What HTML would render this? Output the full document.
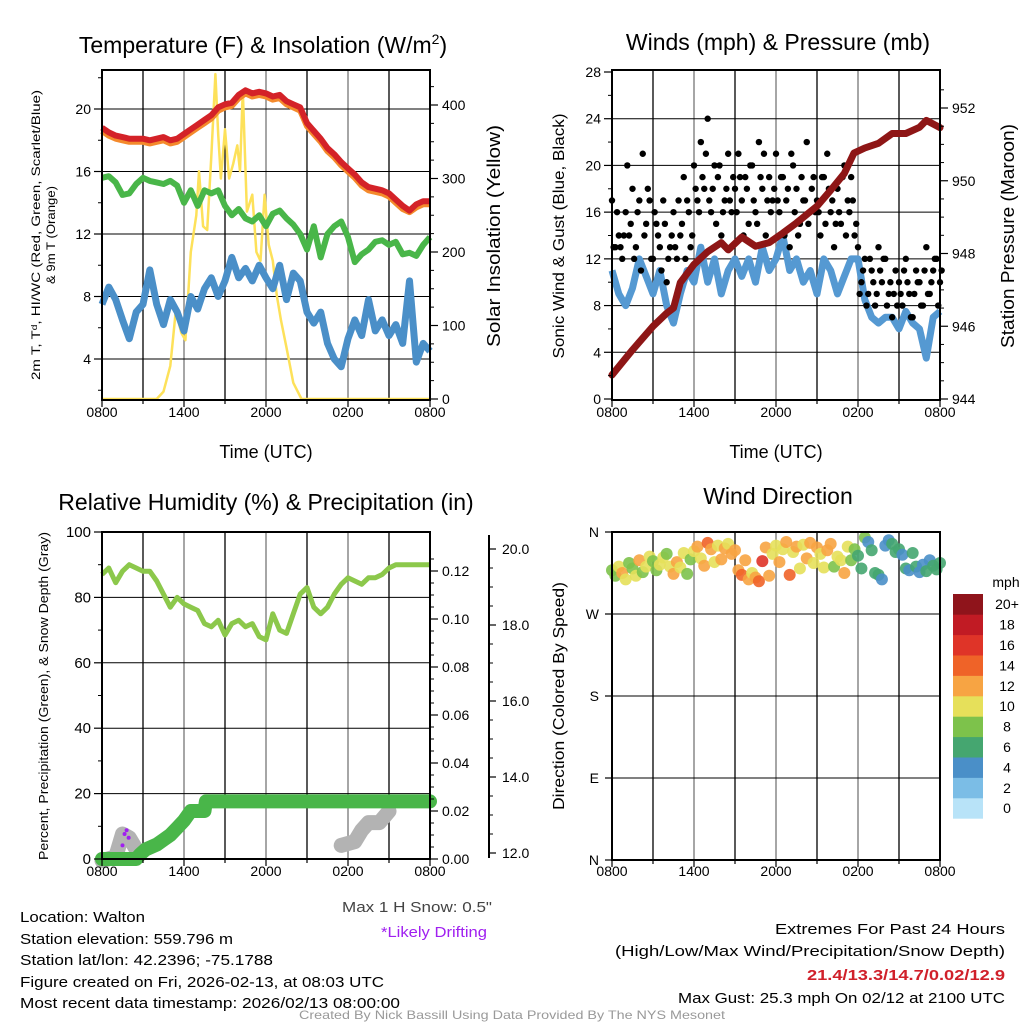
<!DOCTYPE html>
<html><head><meta charset="utf-8"><style>
html,body{margin:0;padding:0;background:#fff;}
svg{display:block;font-family:"Liberation Sans",sans-serif;}
</style></head><body>
<svg id="chart" width="1024" height="1024" viewBox="0 0 1024 1024" xmlns="http://www.w3.org/2000/svg">
<g id="p1"></g>
<g id="p2"></g>
<g id="p3"></g>
<g id="p4"></g>
<g id="txt">
<text x="20" y="922" font-size="15" textLength="125" lengthAdjust="spacingAndGlyphs">Location: Walton</text>
<text x="20" y="944" font-size="15" textLength="213" lengthAdjust="spacingAndGlyphs">Station elevation: 559.796 m</text>
<text x="20" y="965" font-size="15" textLength="253" lengthAdjust="spacingAndGlyphs">Station lat/lon: 42.2396; -75.1788</text>
<text x="20" y="987" font-size="15" textLength="364" lengthAdjust="spacingAndGlyphs">Figure created on Fri, 2026-02-13, at 08:03 UTC</text>
<text x="20" y="1008" font-size="15" textLength="380" lengthAdjust="spacingAndGlyphs">Most recent data timestamp: 2026/02/13 08:00:00</text>
<text x="342" y="912" font-size="15" fill="#444" textLength="150" lengthAdjust="spacingAndGlyphs">Max 1 H Snow: 0.5"</text>
<text x="381" y="937" font-size="15" fill="#a020f0" textLength="106" lengthAdjust="spacingAndGlyphs">*Likely Drifting</text>
<text x="1005" y="934" font-size="15" text-anchor="end" textLength="230" lengthAdjust="spacingAndGlyphs">Extremes For Past 24 Hours</text>
<text x="1005" y="956" font-size="15" text-anchor="end" textLength="390" lengthAdjust="spacingAndGlyphs">(High/Low/Max Wind/Precipitation/Snow Depth)</text>
<text x="1005" y="980" font-size="15" font-weight="bold" fill="#d0202a" text-anchor="end" textLength="198" lengthAdjust="spacingAndGlyphs">21.4/13.3/14.7/0.02/12.9</text>
<text x="1005" y="1003" font-size="15" text-anchor="end" textLength="327" lengthAdjust="spacingAndGlyphs">Max Gust: 25.3 mph On 02/12 at 2100 UTC</text>
<text x="512" y="1019" font-size="12" fill="#999" text-anchor="middle" textLength="426" lengthAdjust="spacingAndGlyphs">Created By Nick Bassill Using Data Provided By The NYS Mesonet</text>
</g>
</svg>
<script>
// ---------- DATA ----------
const timeLabels = ["0800","1400","2000","0200","0800"];
const tempRed = [18.8,18.5,18.3,18.2,18.1,18.1,18.1,18.0,18.1,18.2,18.0,18.1,18.4,18.7,19.0,19.3,19.6,20.1,20.3,20.4,20.9,21.2,21.0,21.1,21.0,20.8,20.9,20.5,20.3,20.1,19.1,18.6,18.1,17.5,17.1,16.6,16.2,15.8,15.3,15.0,14.9,14.8,14.6,14.2,13.8,13.5,13.9,14.1,14.1];
const temp9m = [18.6,18.3,18.1,18.0,17.9,17.9,17.9,17.8,17.9,18.0,17.8,17.9,18.2,18.5,18.8,19.1,19.4,19.9,20.1,20.2,20.7,21.0,20.8,20.9,20.8,20.6,20.7,20.3,20.1,19.9,18.9,18.4,17.9,17.3,16.9,16.4,16.0,15.6,15.1,14.8,14.7,14.6,14.4,14.0,13.6,13.4,13.7,13.9,13.9];
const dewGreen = [15.6,15.7,15.3,14.5,14.6,15.2,15.6,15.4,15.3,15.2,15.4,15.1,14.0,14.8,13.8,14.8,14.6,14.8,13.8,13.2,13.6,13.0,12.8,13.2,12.5,13.3,13.5,13.0,12.6,12.0,11.0,12.5,10.5,12.0,12.5,12.8,11.8,10.2,10.7,11.0,11.5,11.6,11.3,11.5,10.7,10.8,10.6,11.3,11.8];
const wcBlue = [7.5,8.6,7.8,6.5,5.3,7.0,7.5,9.7,7.5,6.2,7.8,7.0,5.8,8.0,7.2,8.5,9.2,8.0,9.0,10.5,9.2,9.8,9.0,10.0,9.2,8.5,10.0,7.8,9.5,9.0,7.0,6.3,7.0,5.0,4.0,3.5,5.3,6.5,5.5,7.8,5.8,6.5,5.5,6.2,5.0,9.0,3.8,5.0,4.5];
const solarTimes = [0,4,4.5,5,5.4,5.8,6.1,6.5,6.9,7.1,7.4,7.7,8.0,8.3,8.5,8.7,9.0,9.3,9.6,9.9,10.1,10.3,10.6,11.0,11.3,11.6,11.9,12.2,12.5,12.8,13.1,13.5,14.0,14.6,15,24];
const solarVals = [0,0,10,45,120,90,80,200,250,310,235,230,330,442,360,300,367,300,320,345,310,420,255,278,200,188,278,210,188,140,107,70,22,0,0,0];
const windBlue = [11,9,8,9.5,12,10.5,9,11,8,6.5,9,11,10,13,10,12,9,11,12,10.5,12,10,13,11,12,14,11,12,10,11,9,12,11,9,10.5,12,12,8.5,7,6.5,7,7,6,7.5,6.5,6,3.5,7,7.5];
const gustBlack = [17,13,14,12,16,14,18,13,17,21,15,17, 12,15,13,17,10,13,16,12,14,19,17,13, 20,17,22,18,24,16,20,19,14,17,21,16, 18,21,17,19,15,20,16,22,18,14,19,17, 21,16,19,17,13,20,18,15,17,22,16,19, 17,14,19,21,16,13,18,15,20,17,19,14, 13,10,12,9,11,8,13,10,12,9,7,11, 10,8,12,9,7,11,10,8,13,9,11,12,10];
const gustExtra = [13,16,13,14,20,15,12,16,11,14,18,12, 16,14,11,15,12,14,13,17,15,12,16,14, 18,16,19,21,17,18,15,20,16,18,17,19, 16,19,14,18,20,17,15,19,21,17,16,18, 17,19,14,18,21,16,14,19,17,15,18,16, 16,19,15,18,17,15,16,19,14,16,17,15, 9,11,8,12,10,9,11,12,8,10,9,8, 9,11,10,7,9,10,8,11,9,10,12,8,11];
const pressMaroonT = [0,1.5,3,4,4.5,5,6,7,8,8.5,9.5,10.5,11.5,12.5,13.5,15,16,17,17.7,18.5,19.5,20.5,21.5,22.5,23,24];
const pressMaroon = [944.66,945.35,946.0,946.36,946.5,947.2,947.7,948.05,948.3,948.1,948.45,948.2,948.3,948.56,948.84,949.3,949.74,950.2,950.76,950.9,951.03,951.3,951.3,951.47,951.66,951.46];
const rhGreen = [87,89,84.5,88,90,89,88,88,85,81,77,80,78,77,76,72,71,73,68.5,72,73,71,72,68,67,75,70,69,75,81,83,77,75,77,81,84,86,85,84,86,86,87,89,90,90,90,90,90,90];
const precipT = [0,2.5,2.8,3.2,4,4.5,5,5.5,6,6.5,7.5,7.6,24];
const precipVals = [0,0,0.002,0.004,0.006,0.008,0.010,0.013,0.016,0.020,0.020,0.024,0.024];
const snowT1 = [0,1,1.5,2,2.5];
const snowV1 = [11.8,11.9,12.5,12.4,12.1];
const snowT2 = [17.5,18.5,19,19.5,20.3,21];
const snowV2 = [12.2,12.3,12.6,12.8,12.8,13.1];
const driftT = [1.5,1.65,1.8,1.95];
const driftV = [12.2,12.5,12.6,12.4];
const wdDir = [318,312,322,315,308,326,320,312,329,316,322,333, 328,318,324,332,336,322,314,327,321,337,314,330, 339,344,331,323,348,341,327,345,330,342,347,336, 340,318,313,329,308,315,310,306,328,343,312,336, 345,327,341,349,313,338,344,320,346,331,348,326, 343,336,321,340,347,322,333,329,315,344,329,341, 334,320,354,349,340,315,313,308,345,351,347,338, 341,335,320,318,337,322,316,324,317,329,323,319,326];
const wdSpd = [9,8,10,13,11,9,8,10,12,9,11,10, 9,8,10,11,9,10,12,13,10,11,9,8, 10,12,11,13,14,12,10,11,13,12,10,12, 13,12,14,12,13,11,12,15,16,13,12,11, 11,12,10,13,14,11,12,10,11,13,12,10, 12,11,10,13,12,9,11,10,12,11,8,9, 7,6,8,5,6,7,6,5,4,5,6,7, 6,5,6,4,6,7,5,4,6,5,7,6,6];
const speedBins = ["0","2","4","6","8","10","12","14","16","18","20+"];
const speedColors = ["#b8e3f8","#7bbde6","#4a8fc8","#45a670","#7dc24b","#e6e05a","#f7a443","#ef6328","#df3428","#c11b24","#8f141b"];

// ---------- helpers ----------
const NS="http://www.w3.org/2000/svg";
function mk(parent, tag, attrs, text){
  const e=document.createElementNS(NS,tag);
  for(const k in attrs) e.setAttribute(k,attrs[k]);
  if(text!==undefined) e.textContent=text;
  parent.appendChild(e); return e;
}
function lin(d0,d1,r0,r1){return v=>r0+(v-d0)/(d1-d0)*(r1-r0);}
function pathFrom(ts,vs,xs,ys){let d="";for(let i=0;i<vs.length;i++){if(vs[i]===null)continue;d+=(d?"L":"M")+xs(ts[i]).toFixed(1)+","+ys(vs[i]).toFixed(1);}return d;}
function halfHours(n){const a=[];for(let i=0;i<n;i++)a.push(i*0.5);return a;}
function quarterHours(n){const a=[];for(let i=0;i<n;i++)a.push(i*0.25);return a;}
function speedColor(s){let i=Math.floor(s/2);if(i>10)i=10;if(i<0)i=0;return speedColors[i];}

function frame(g,x0,y0,x1,y1,hGrid,ys){
  mk(g,"rect",{x:x0,y:y0,width:x1-x0,height:y1-y0,fill:"#fff"});
  const xs=lin(0,24,x0,x1);
  for(let h=3;h<24;h+=3){const l=mk(g,"line",{x1:xs(h),x2:xs(h),y1:y0,y2:y1,stroke:h%6?"#000":"#777","stroke-width":1.3});
  
  }
  hGrid.forEach(v=>{const l=mk(g,"line",{x1:x0,x2:x1,y1:ys(v),y2:ys(v),stroke:"#000","stroke-width":1});
  
  });
  return xs;
}
function border(g,x0,y0,x1,y1){mk(g,"rect",{x:x0,y:y0,width:x1-x0,height:y1-y0,fill:"none",stroke:"#000","stroke-width":2});}
function xAxis(g,xs,y1,ly){
  for(let h=0;h<=24;h+=3){mk(g,"line",{x1:xs(h),x2:xs(h),y1:y1,y2:y1+(h%6?4:7),stroke:"#000","stroke-width":1.2});}
  timeLabels.forEach((t,i)=>{const e=mk(g,"text",{x:xs(i*6),y:ly,"font-size":14,"text-anchor":"middle"},t);
  
  });
}
function leftTicks(g,x0,ys,vals,fmt,minor,fs){
  vals.forEach(v=>{mk(g,"line",{x1:x0-8,x2:x0,y1:ys(v),y2:ys(v),stroke:"#000","stroke-width":1.2});
  const e=mk(g,"text",{x:x0-11,y:ys(v)+5,"font-size":fs||14,"text-anchor":"end"},fmt(v));
  
  });
  minor.forEach(v=>mk(g,"line",{x1:x0-4,x2:x0,y1:ys(v),y2:ys(v),stroke:"#000","stroke-width":1}));
}
function rightTicks(g,x1,ys,vals,fmt,minor){
  vals.forEach(v=>{mk(g,"line",{x1:x1,x2:x1+8,y1:ys(v),y2:ys(v),stroke:"#000","stroke-width":1.2});
  const e=mk(g,"text",{x:x1+12,y:ys(v)+5,"font-size":14},fmt(v));
  
  });
  minor.forEach(v=>mk(g,"line",{x1:x1,x2:x1+4,y1:ys(v),y2:ys(v),stroke:"#000","stroke-width":1}));
}
function rng(a,b,s){const r=[];for(let v=a;v<=b+1e-9;v+=s)r.push(+v.toFixed(4));return r;}
function vtext(g,x,y,txt,fs,name,len){const e=mk(g,"text",{x:0,y:0,"font-size":fs,"text-anchor":"middle",transform:`translate(${x},${y}) rotate(-90)`},txt);
  if(len){e.setAttribute("textLength",len);e.setAttribute("lengthAdjust","spacingAndGlyphs");}
  
  return e;}
function title(g,x,y,txt,name){const e=mk(g,"text",{x:x,y:y,"font-size":23,"text-anchor":"middle"},txt);
  
  return e;}

// ---------- Panel 1 ----------
(function(){
  const g=document.getElementById("p1");
  const X0=102,X1=430,Y0=70,Y1=400;
  const ys=lin(20,4,109,359), ysR=lin(0,400,399,105);
  const xs=frame(g,X0,Y0,X1,Y1,[4,8,12,16,20],ys);
  const hh=halfHours(49);
  const sol=mk(g,"path",{d:pathFrom(solarTimes,solarVals,xs,ysR),fill:"none",stroke:"#fde15a","stroke-width":2.5,"stroke-linejoin":"round"});
  
  
  const b=mk(g,"path",{d:pathFrom(hh,wcBlue,xs,ys),fill:"none",stroke:"#4a8fc8","stroke-width":7,"stroke-linejoin":"round"});
  
  
  const gr=mk(g,"path",{d:pathFrom(hh,dewGreen,xs,ys),fill:"none",stroke:"#49b649","stroke-width":6,"stroke-linejoin":"round"});
  
  
  const o=mk(g,"path",{d:pathFrom(hh,temp9m,xs,ys),fill:"none",stroke:"#f48a2c","stroke-width":6,"stroke-linejoin":"round"});
  
  
  const r=mk(g,"path",{d:pathFrom(hh,tempRed,xs,ys),fill:"none",stroke:"#d42228","stroke-width":6,"stroke-linejoin":"round"});
  
  
  border(g,X0,Y0,X1,Y1);
  xAxis(g,xs,Y1,417);
  leftTicks(g,X0,ys,[4,8,12,16,20],v=>String(v),rng(2,22,2).filter(v=>v%4));
  rightTicks(g,X1,ysR,[0,100,200,300,400],v=>String(v),rng(25,425,25).filter(v=>v%100));
  const xt=mk(g,"text",{x:266,y:458,"font-size":18,"text-anchor":"middle"},"Time (UTC)");
  
  
  vtext(g,40,235,"2m T, T\u1D48, HI/WC (Red, Green, Scarlet/Blue)",12,"y-axis-title-line1",290);
  vtext(g,55,235,"& 9m T (Orange)",12,"y-axis-title-line2",98);
  vtext(g,500,236,"Solar Insolation (Yellow)",18,"right-axis-title",222);
  const t=mk(g,"text",{x:263,y:53,"font-size":23,"text-anchor":"middle"});
  
  
  t.textContent="Temperature (F) & Insolation (W/m";
  mk(t,"tspan",{"font-size":14,dy:-9},"2");
  mk(t,"tspan",{dy:9},")");
})();

// ---------- Panel 2 ----------
(function(){
  const g=document.getElementById("p2");
  const X0=612,X1=940,Y0=70,Y1=400;
  const ys=lin(0,28,399,72), ysR=lin(944,952,399,108);
  const xs=frame(g,X0,Y0,X1,Y1,[4,8,12,16,20,24],ys);
  const hh=halfHours(49), qh=quarterHours(97);
  const b=mk(g,"path",{d:pathFrom(hh,windBlue,xs,ys),fill:"none",stroke:"#5599d2","stroke-width":7,"stroke-linejoin":"round"});
  
  
  gustBlack.forEach((v,i)=>{const c=mk(g,"circle",{cx:xs(qh[i]),cy:ys(v),r:3.2,fill:"#000"});
  
  });
  gustExtra.forEach((v,i)=>{const c=mk(g,"circle",{cx:xs(qh[i]+0.12),cy:ys(v),r:3.2,fill:"#000"});
  
  });
  const p=mk(g,"path",{d:pathFrom(pressMaroonT,pressMaroon,xs,ysR),fill:"none",stroke:"#8e1616","stroke-width":7,"stroke-linejoin":"round","stroke-linecap":"round"});
  
  
  border(g,X0,Y0,X1,Y1);
  xAxis(g,xs,Y1,417);
  leftTicks(g,X0,ys,rng(0,28,4),v=>String(v),rng(2,26,4));
  rightTicks(g,X1,ysR,[944,946,948,950,952],v=>String(v),rng(944.5,952.5,0.5).filter(v=>v%2));
  const xt=mk(g,"text",{x:776,y:458,"font-size":18,"text-anchor":"middle"},"Time (UTC)");
  
  
  vtext(g,564,236,"Sonic Wind & Gust (Blue, Black)",16,"y-axis-title",245);
  vtext(g,1014,236,"Station Pressure (Maroon)",18,"right-axis-title",224);
  title(g,778,50,"Winds (mph) & Pressure (mb)","chart-title");
})();

// ---------- Panel 3 ----------
(function(){
  const g=document.getElementById("p3");
  const X0=102,X1=430,Y0=532,Y1=859;
  const ys=lin(0,100,859,532), ysP=lin(0,0.12,859,571), ysS=lin(12,20,853,549);
  const xs=frame(g,X0,Y0,X1,Y1,[20,40,60,80],ys);
  const hh=halfHours(49);
  const rh=mk(g,"path",{d:pathFrom(hh,rhGreen,xs,ys),fill:"none",stroke:"#8cc84b","stroke-width":5,"stroke-linejoin":"round"});
  
  
  [[snowT1,snowV1],[snowT2,snowV2]].forEach(s=>{const e=mk(g,"path",{d:pathFrom(s[0],s[1],xs,ysS),fill:"none",stroke:"#b3b3b3","stroke-width":15,"stroke-linejoin":"round","stroke-linecap":"round"});
  
  });
  const pr=mk(g,"path",{d:pathFrom(precipT,precipVals,xs,ysP),fill:"none",stroke:"#49b649","stroke-width":14,"stroke-linejoin":"round","stroke-linecap":"round"});
  
  
  driftT.forEach((t,i)=>{const c=mk(g,"circle",{cx:xs(t),cy:ysS(driftV[i]),r:2,fill:"#a020f0"});
  
  });
  border(g,X0,Y0,X1,Y1);
  xAxis(g,xs,Y1,876);
  leftTicks(g,X0,ys,rng(0,100,20),v=>String(v),rng(10,90,20),15);
  rightTicks(g,X1,ysP,rng(0,0.12,0.02),v=>v.toFixed(2),rng(0.005,0.125,0.005).filter(v=>Math.round(v*1000)%20));
  mk(g,"line",{x1:489,x2:489,y1:535,y2:858,stroke:"#000","stroke-width":2});
  [12,14,16,18,20].forEach(v=>{mk(g,"line",{x1:489,x2:496,y1:ysS(v),y2:ysS(v),stroke:"#000","stroke-width":1.2});
  const e=mk(g,"text",{x:502,y:ysS(v)+5,"font-size":14},v.toFixed(1));
  
  });
  rng(12.5,19.5,0.5).filter(v=>v%2).forEach(v=>mk(g,"line",{x1:489,x2:493,y1:ysS(v),y2:ysS(v),stroke:"#000","stroke-width":1}));
  vtext(g,48,696,"Percent, Precipitation (Green), & Snow Depth (Gray)",13,"y-axis-title",328);
  title(g,266,510,"Relative Humidity (%) & Precipitation (in)","chart-title");
})();

// ---------- Panel 4 ----------
(function(){
  const g=document.getElementById("p4");
  const X0=612,X1=940,Y0=532,Y1=860;
  const ys=lin(360,0,532,860);
  const xs=frame(g,X0,Y0,X1,Y1,[90,180,270],ys);
  const qh=quarterHours(97);
  wdDir.forEach((d,i)=>{const c=mk(g,"circle",{cx:xs(qh[i]),cy:ys(d),r:6,fill:speedColor(wdSpd[i]),"fill-opacity":0.9});
  
  });
  border(g,X0,Y0,X1,Y1);
  xAxis(g,xs,Y1,876);
  ["N","E","S","W","N"].forEach((l,i)=>{const v=i*90;mk(g,"line",{x1:X0-7,x2:X0,y1:ys(v),y2:ys(v),stroke:"#000","stroke-width":1.2});
  const e=mk(g,"text",{x:X0-13,y:ys(v)+5,"font-size":14,"text-anchor":"end"},l);
  
  });
  vtext(g,564,696,"Direction (Colored By Speed)",16,"y-axis-title",228);
  title(g,778,504,"Wind Direction","chart-title");
  const lg=mk(g,"g",{});
  
  
  const u=mk(lg,"text",{x:1006,y:587,"font-size":14,"text-anchor":"middle"},"mph");
  
  
  const bh=20.4;
  for(let i=0;i<11;i++){
    const yTop=594+(10-i)*bh;
    const r=mk(lg,"rect",{x:953,y:yTop,width:30,height:bh+0.3,fill:speedColors[i]});
    
    
    const t=mk(lg,"text",{x:1007,y:yTop+bh/2+5,"font-size":14,"text-anchor":"middle"},speedBins[i]);
    
    
  }
})();
</script>
</body></html>
